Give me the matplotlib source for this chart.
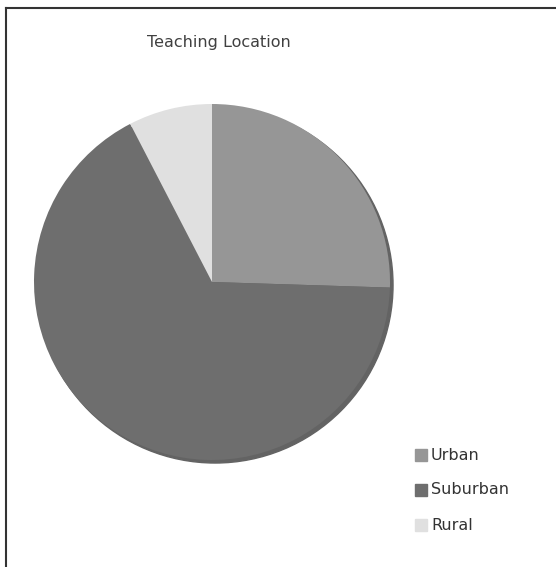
import numpy as np
import matplotlib
import matplotlib.pyplot as plt
from matplotlib.patches import Circle
matplotlib.use('Agg')

labels = ['Urban', 'Suburban', 'Rural']
shares = [25.5, 66.9, 7.6]
colors = ['#969696', '#6e6e6e', '#e0e0e0']

fig = plt.figure(figsize=(5.56, 5.67), dpi=100)

# outer frame (only top and left show in the picture)
fig.add_artist(plt.Line2D([6/556, 6/556], [0, 1 - 8/567], color='#333333', lw=1.5))
fig.add_artist(plt.Line2D([6/556, 1], [1 - 8/567, 1 - 8/567], color='#333333', lw=1.5))

# pie centre (212, 282) px, radius 178 px; axes padded so the shadow fits
R, pad = 178, 1.1
cx, cy = 212, 282
half = R * pad
ax = fig.add_axes([(cx - half)/556, (567 - cy - half)/567, 2*half/556, 2*half/567])

# soft shadow behind the pie
ax.add_patch(Circle((0.017, -0.017), 1.0, color='#636363', zorder=0))

ax.pie(shares, colors=colors, startangle=90, counterclock=False,
       wedgeprops=dict(linewidth=0), radius=1.0)
ax.set_xlim(-pad, pad)
ax.set_ylim(-pad, pad)
ax.set_aspect('equal')
ax.axis('off')

fig.text(219/556, 1 - 43/567, 'Teaching Location', ha='center', va='center',
         fontsize=11.5, color='#404040')

for i, (lab, c) in enumerate(zip(labels, colors)):
    y = 1 - (455 + 35*i)/567
    fig.add_artist(plt.Rectangle((415/556, y - 6/567), 12/556, 12/567,
                                 color=c, transform=fig.transFigure))
    fig.text(431/556, y, lab, ha='left', va='center', fontsize=11.5, color='#333333')

fig.savefig('out.png', dpi=100)
